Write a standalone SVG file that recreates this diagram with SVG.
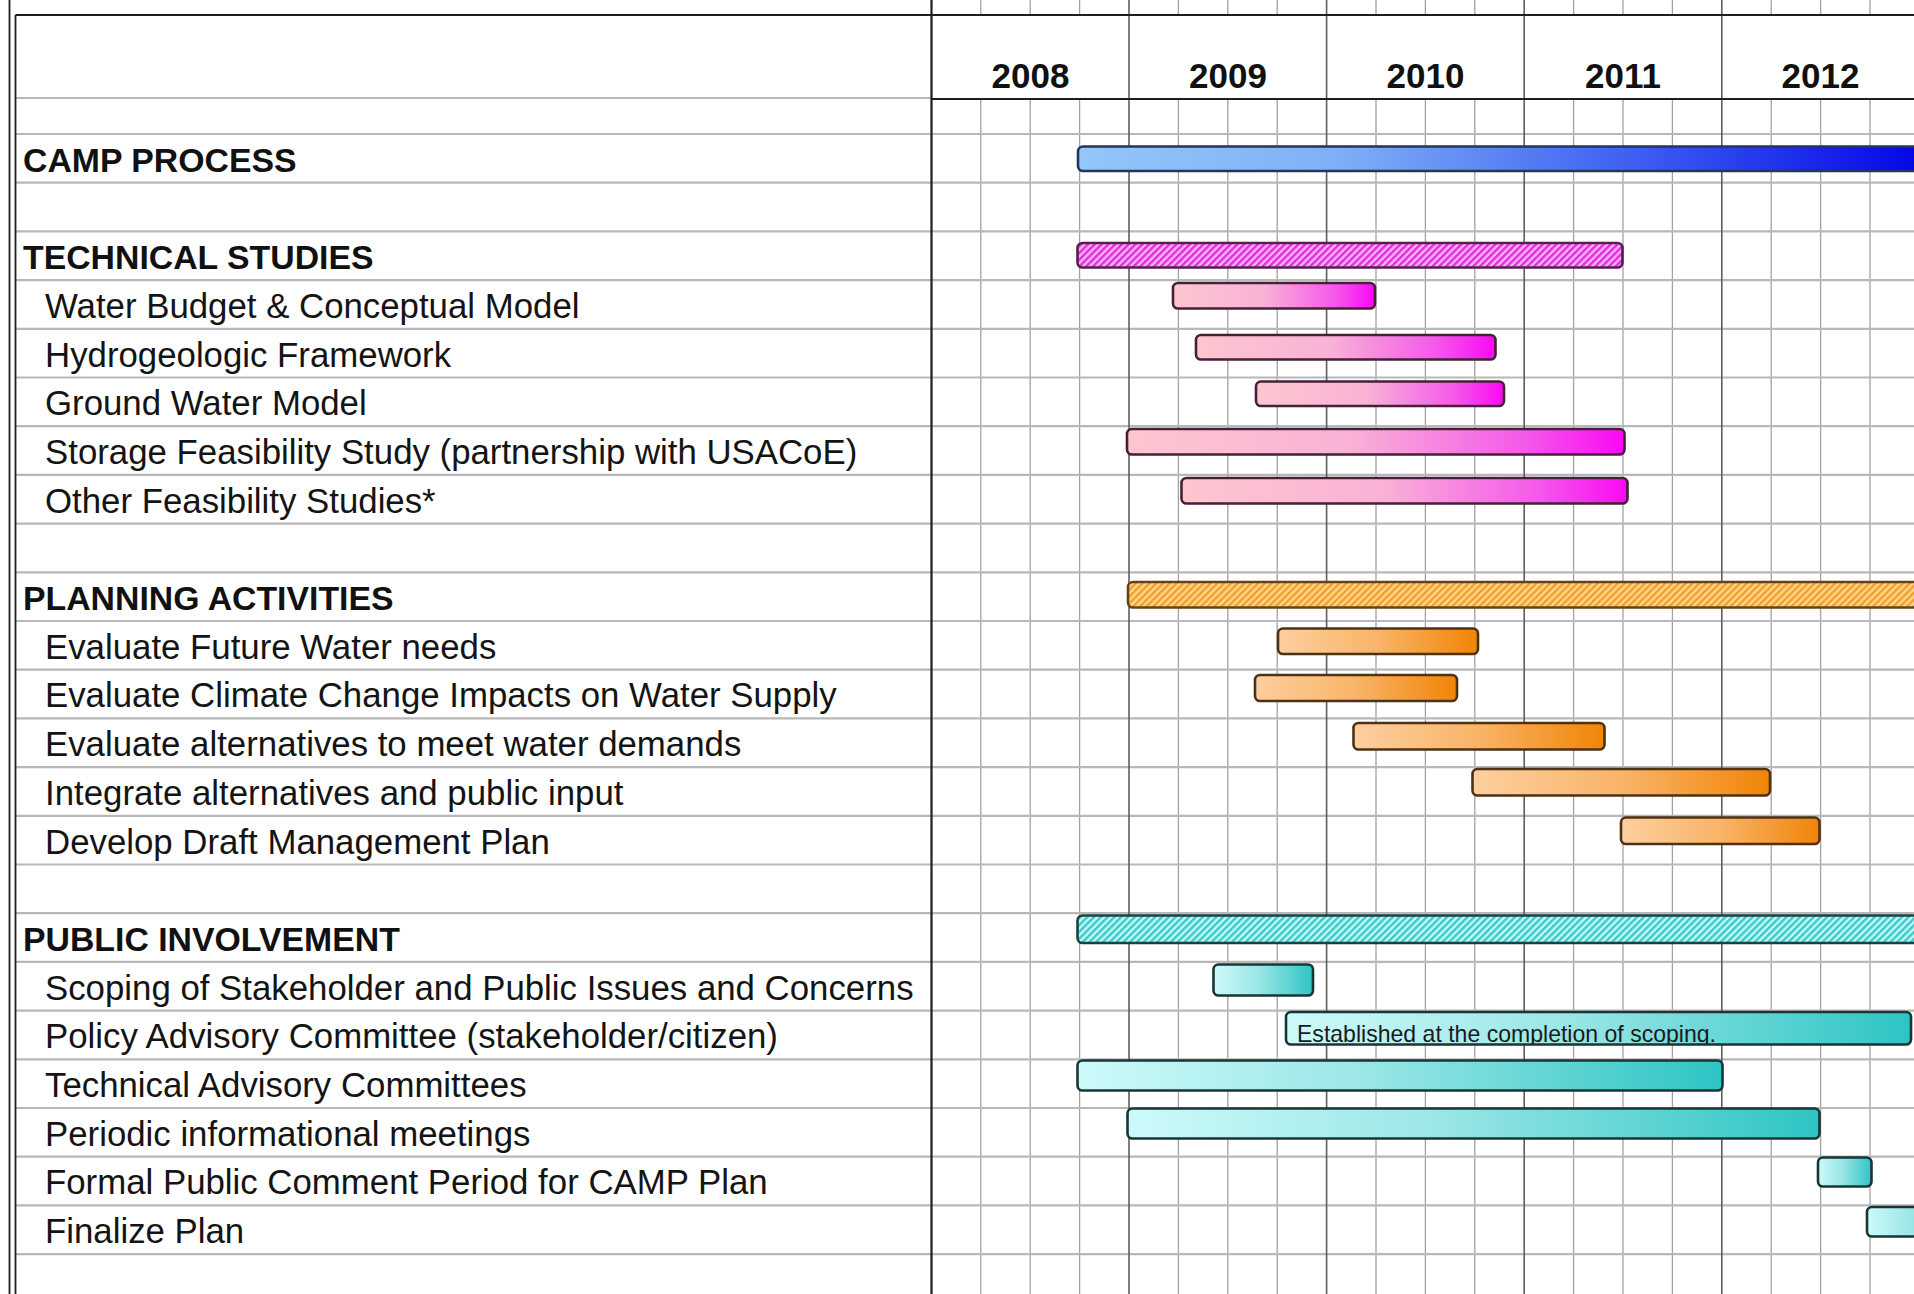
<svg xmlns="http://www.w3.org/2000/svg" width="1914" height="1294" viewBox="0 0 1914 1294">
<style>
.lbl{font-family:"Liberation Sans",Arial,sans-serif;font-size:34.8px;fill:#141414}
.hdr{font-family:"Liberation Sans",Arial,sans-serif;font-size:33.8px;font-weight:bold;fill:#111}
.yr{font-family:"Liberation Sans",Arial,sans-serif;font-size:35px;font-weight:bold;fill:#111;text-anchor:middle}
.note{font-family:"Liberation Sans",Arial,sans-serif;font-size:24px;fill:#1a1a1a}
.row{stroke:#b8b8b8;stroke-width:2.2}
.q{stroke:#a2a2a2;stroke-width:1.3}
.y{stroke:#5e5e5e;stroke-width:1.6}
.bd{stroke:#1e1e1e;stroke-width:1.8;fill:none}
.pk{fill:url(#gPink);stroke:#452038;stroke-width:2.6}
.or{fill:url(#gOrange);stroke:#4e3215;stroke-width:2.6}
.tl{fill:url(#gTeal);stroke:#183636;stroke-width:2.6}
</style>
<defs>
<linearGradient id="gBlue" x1="0" y1="0" x2="1" y2="0">
<stop offset="0" stop-color="#93c6f9"/>
<stop offset="0.3" stop-color="#7fb0f7"/>
<stop offset="0.65" stop-color="#3d5ef2"/>
<stop offset="1" stop-color="#0000e4"/>
</linearGradient>
<linearGradient id="gPink" x1="0" y1="0" x2="1" y2="0">
<stop offset="0" stop-color="#fcc6cf"/>
<stop offset="0.45" stop-color="#f9b2d6"/>
<stop offset="0.8" stop-color="#f459ea"/>
<stop offset="1" stop-color="#fb08f4"/>
</linearGradient>
<linearGradient id="gOrange" x1="0" y1="0" x2="1" y2="0">
<stop offset="0" stop-color="#fdcf9f"/>
<stop offset="0.5" stop-color="#f9b468"/>
<stop offset="1" stop-color="#f18406"/>
</linearGradient>
<linearGradient id="gTeal" x1="0" y1="0" x2="1" y2="0">
<stop offset="0" stop-color="#cdfafa"/>
<stop offset="0.45" stop-color="#9ae6e6"/>
<stop offset="1" stop-color="#2ec4c4"/>
</linearGradient>
<pattern id="hPink" patternUnits="userSpaceOnUse" width="4.8" height="4.8" patternTransform="rotate(45)">
<rect width="4.8" height="4.8" fill="#ffb6ff"/>
<rect width="2.5" height="4.8" fill="#e22fdc"/>
</pattern>
<pattern id="hOrange" patternUnits="userSpaceOnUse" width="4.8" height="4.8" patternTransform="rotate(45)">
<rect width="4.8" height="4.8" fill="#ffd88e"/>
<rect width="2.5" height="4.8" fill="#f29f2e"/>
</pattern>
<pattern id="hTeal" patternUnits="userSpaceOnUse" width="4.8" height="4.8" patternTransform="rotate(45)">
<rect width="4.8" height="4.8" fill="#c4fafa"/>
<rect width="2.5" height="4.8" fill="#3fcaca"/>
</pattern>
<clipPath id="clipNote"><rect x="1280" y="1000" width="640" height="44"/></clipPath>
</defs>
<rect width="1914" height="1294" fill="#ffffff"/>

<g id="grid">
<g class="q">
<line x1="980.8" y1="0" x2="980.8" y2="15"/><line x1="980.8" y1="99" x2="980.8" y2="1294"/>
<line x1="1030.2" y1="0" x2="1030.2" y2="15"/><line x1="1030.2" y1="99" x2="1030.2" y2="1294"/>
<line x1="1079.6" y1="0" x2="1079.6" y2="15"/><line x1="1079.6" y1="99" x2="1079.6" y2="1294"/>
<line x1="1178.4" y1="0" x2="1178.4" y2="15"/><line x1="1178.4" y1="99" x2="1178.4" y2="1294"/>
<line x1="1227.8" y1="0" x2="1227.8" y2="15"/><line x1="1227.8" y1="99" x2="1227.8" y2="1294"/>
<line x1="1277.2" y1="0" x2="1277.2" y2="15"/><line x1="1277.2" y1="99" x2="1277.2" y2="1294"/>
<line x1="1376" y1="0" x2="1376" y2="15"/><line x1="1376" y1="99" x2="1376" y2="1294"/>
<line x1="1425.4" y1="0" x2="1425.4" y2="15"/><line x1="1425.4" y1="99" x2="1425.4" y2="1294"/>
<line x1="1474.8" y1="0" x2="1474.8" y2="15"/><line x1="1474.8" y1="99" x2="1474.8" y2="1294"/>
<line x1="1573.6" y1="0" x2="1573.6" y2="15"/><line x1="1573.6" y1="99" x2="1573.6" y2="1294"/>
<line x1="1623" y1="0" x2="1623" y2="15"/><line x1="1623" y1="99" x2="1623" y2="1294"/>
<line x1="1672.4" y1="0" x2="1672.4" y2="15"/><line x1="1672.4" y1="99" x2="1672.4" y2="1294"/>
<line x1="1771.2" y1="0" x2="1771.2" y2="15"/><line x1="1771.2" y1="99" x2="1771.2" y2="1294"/>
<line x1="1820.6" y1="0" x2="1820.6" y2="15"/><line x1="1820.6" y1="99" x2="1820.6" y2="1294"/>
<line x1="1870" y1="0" x2="1870" y2="15"/><line x1="1870" y1="99" x2="1870" y2="1294"/>
</g>
<g class="row">
<line x1="16" y1="98" x2="931" y2="98"/>
<line x1="16" y1="134" x2="1914" y2="134"/>
<line x1="16" y1="182.7" x2="1914" y2="182.7"/>
<line x1="16" y1="231.4" x2="1914" y2="231.4"/>
<line x1="16" y1="280.1" x2="1914" y2="280.1"/>
<line x1="16" y1="328.8" x2="1914" y2="328.8"/>
<line x1="16" y1="377.5" x2="1914" y2="377.5"/>
<line x1="16" y1="426.2" x2="1914" y2="426.2"/>
<line x1="16" y1="474.9" x2="1914" y2="474.9"/>
<line x1="16" y1="523.6" x2="1914" y2="523.6"/>
<line x1="16" y1="572.3" x2="1914" y2="572.3"/>
<line x1="16" y1="621" x2="1914" y2="621"/>
<line x1="16" y1="669.7" x2="1914" y2="669.7"/>
<line x1="16" y1="718.4" x2="1914" y2="718.4"/>
<line x1="16" y1="767.1" x2="1914" y2="767.1"/>
<line x1="16" y1="815.8" x2="1914" y2="815.8"/>
<line x1="16" y1="864.5" x2="1914" y2="864.5"/>
<line x1="16" y1="913.2" x2="1914" y2="913.2"/>
<line x1="16" y1="961.9" x2="1914" y2="961.9"/>
<line x1="16" y1="1010.6" x2="1914" y2="1010.6"/>
<line x1="16" y1="1059.3" x2="1914" y2="1059.3"/>
<line x1="16" y1="1108" x2="1914" y2="1108"/>
<line x1="16" y1="1156.7" x2="1914" y2="1156.7"/>
<line x1="16" y1="1205.4" x2="1914" y2="1205.4"/>
<line x1="16" y1="1254.1" x2="1914" y2="1254.1"/>
</g>
<g class="y">
<line x1="1129" y1="0" x2="1129" y2="1294"/>
<line x1="1326.6" y1="0" x2="1326.6" y2="1294"/>
<line x1="1524.2" y1="0" x2="1524.2" y2="1294"/>
<line x1="1721.8" y1="0" x2="1721.8" y2="1294"/>
</g>
<line class="bd" x1="9.5" y1="0" x2="9.5" y2="1294"/>
<line class="bd" x1="15.5" y1="15" x2="15.5" y2="1294"/>
<line class="bd" x1="15.5" y1="15" x2="1914" y2="15"/>
<line class="bd" x1="931.5" y1="0" x2="931.5" y2="1294" style="stroke-width:2.2"/>
<line class="bd" x1="931.5" y1="99" x2="1914" y2="99" style="stroke-width:2"/>
</g>

<g id="years">
<text class="yr" x="1030.5" y="88">2008</text>
<text class="yr" x="1228" y="88">2009</text>
<text class="yr" x="1425.5" y="88">2010</text>
<text class="yr" x="1623" y="88">2011</text>
<text class="yr" x="1820.5" y="88">2012</text>
</g>

<g id="camp-process">
<text class="hdr" x="23" y="171.7">CAMP PROCESS</text>
<rect x="1078" y="146.5" width="860" height="24.5" rx="5" fill="url(#gBlue)" stroke="#26355a" stroke-width="2.6"/>
</g>

<g id="technical-studies">
<text class="hdr" x="23" y="269.1">TECHNICAL STUDIES</text>
<rect x="1077.5" y="243" width="545" height="24.5" rx="5" fill="url(#hPink)" stroke="#54204f" stroke-width="2.6"/>
</g>
<g id="water-budget">
<text class="lbl" x="45" y="317.8">Water Budget &amp; Conceptual Model</text>
<rect class="pk" x="1173" y="283" width="202" height="25.5" rx="5"/>
</g>
<g id="hydrogeologic">
<text class="lbl" x="45" y="366.5">Hydrogeologic Framework</text>
<rect class="pk" x="1196" y="335" width="299.5" height="24.5" rx="5"/>
</g>
<g id="ground-water-model">
<text class="lbl" x="45" y="415.2">Ground Water Model</text>
<rect class="pk" x="1256" y="381.5" width="248" height="24.5" rx="5"/>
</g>
<g id="storage-feasibility">
<text class="lbl" x="45" y="463.9">Storage Feasibility Study (partnership with USACoE)</text>
<rect class="pk" x="1127" y="429" width="497.5" height="25.5" rx="5"/>
</g>
<g id="other-feasibility">
<text class="lbl" x="45" y="512.6">Other Feasibility Studies*</text>
<rect class="pk" x="1181.5" y="478" width="446" height="25.5" rx="5"/>
</g>

<g id="planning-activities">
<text class="hdr" x="23" y="610">PLANNING ACTIVITIES</text>
<rect x="1128" y="582" width="810" height="25.5" rx="5" fill="url(#hOrange)" stroke="#634418" stroke-width="2.6"/>
</g>
<g id="future-water">
<text class="lbl" x="45" y="658.7">Evaluate Future Water needs</text>
<rect class="or" x="1278" y="628.5" width="200" height="25.5" rx="5"/>
</g>
<g id="climate-change">
<text class="lbl" x="45" y="707.4">Evaluate Climate Change Impacts on Water Supply</text>
<rect class="or" x="1255" y="675" width="202" height="26" rx="5"/>
</g>
<g id="alternatives">
<text class="lbl" x="45" y="756.1">Evaluate alternatives to meet water demands</text>
<rect class="or" x="1353.5" y="723" width="251" height="26.5" rx="5"/>
</g>
<g id="integrate">
<text class="lbl" x="45" y="804.8">Integrate alternatives and public input</text>
<rect class="or" x="1472.5" y="769" width="297.5" height="26.5" rx="5"/>
</g>
<g id="draft-plan">
<text class="lbl" x="45" y="853.5">Develop Draft Management Plan</text>
<rect class="or" x="1621" y="817.5" width="198.5" height="26.5" rx="5"/>
</g>

<g id="public-involvement">
<text class="hdr" x="23" y="950.9">PUBLIC INVOLVEMENT</text>
<rect x="1077.5" y="915.5" width="860" height="27.5" rx="5" fill="url(#hTeal)" stroke="#1a4040" stroke-width="2.6"/>
</g>
<g id="scoping">
<text class="lbl" x="45" y="999.6">Scoping of Stakeholder and Public Issues and Concerns</text>
<rect class="tl" x="1213.5" y="964.5" width="99.5" height="31" rx="5"/>
</g>
<g id="policy-committee">
<text class="lbl" x="45" y="1048.3">Policy Advisory Committee (stakeholder/citizen)</text>
<rect class="tl" x="1286" y="1012" width="625" height="32.5" rx="5"/>
<text class="note" x="1297" y="1041.5" textLength="419" lengthAdjust="spacingAndGlyphs" clip-path="url(#clipNote)">Established at the completion of scoping.</text>
</g>
<g id="technical-committees">
<text class="lbl" x="45" y="1097">Technical Advisory Committees</text>
<rect class="tl" x="1077.5" y="1060.5" width="645" height="30" rx="5"/>
</g>
<g id="periodic-meetings">
<text class="lbl" x="45" y="1145.7">Periodic informational meetings</text>
<rect class="tl" x="1127.5" y="1108.5" width="692" height="30" rx="5"/>
</g>
<g id="formal-comment">
<text class="lbl" x="45" y="1194.4">Formal Public Comment Period for CAMP Plan</text>
<rect class="tl" x="1818" y="1157.5" width="53.5" height="29" rx="5"/>
</g>
<g id="finalize-plan">
<text class="lbl" x="45" y="1243.1">Finalize Plan</text>
<rect class="tl" x="1867" y="1207" width="100" height="29.5" rx="5"/>
</g>
</svg>
